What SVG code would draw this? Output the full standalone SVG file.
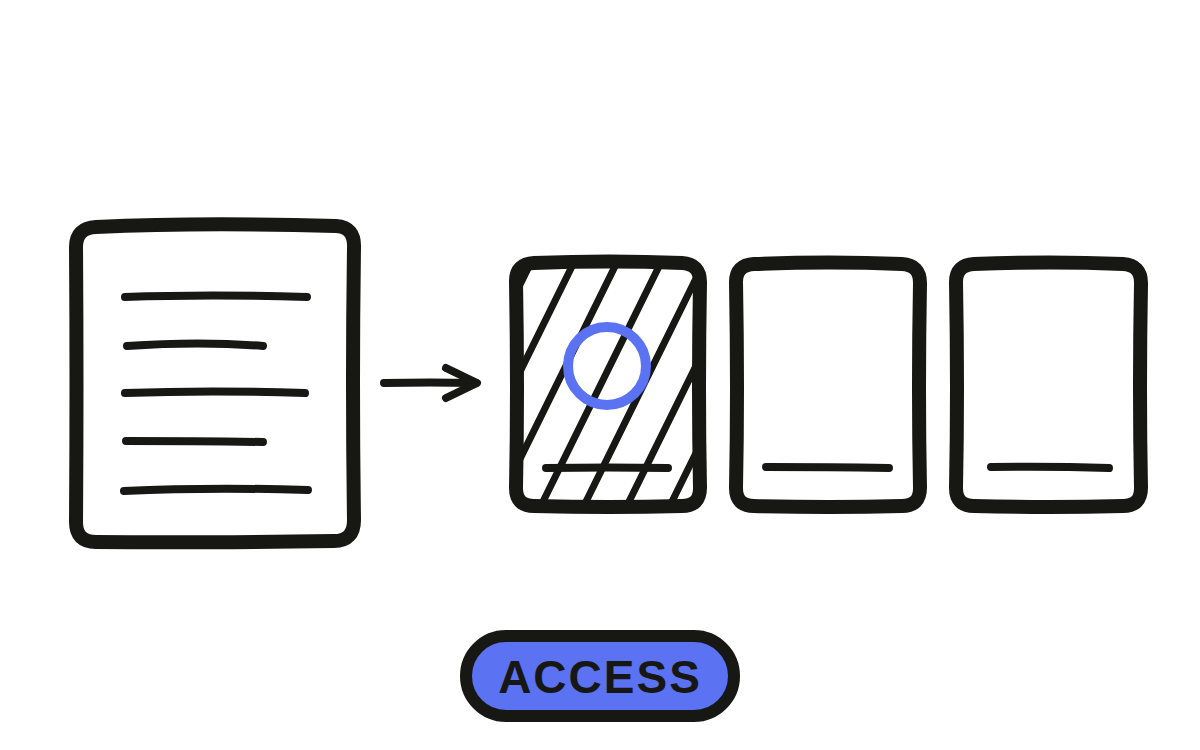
<svg xmlns="http://www.w3.org/2000/svg" width="1200" height="750" viewBox="0 0 1200 750">
<style>
.ink{fill:none;stroke:#171714;stroke-linecap:round;stroke-linejoin:round}
.box{stroke-width:14}
.ln{stroke-width:8}
.hatch{stroke-width:7}
.lbl{font-family:"Liberation Sans",Arial,sans-serif;font-weight:bold;font-size:46px;fill:#171714;letter-spacing:2px}
</style>
<defs>
<clipPath id="cardClip"><rect x="516" y="263" width="184" height="243" rx="18"/></clipPath>
</defs>
<rect width="1200" height="750" fill="#ffffff"/>
<g id="document">
<path class="ink box" d="M96 227 Q200 222 336 226 Q355 227 354 248 Q352 380 354 520 Q354 541 334 541 Q200 543 96 542 Q76 542 76 522 Q77 380 76 247 Q76 228 96 227 Z"/>
<path class="ink ln" d="M125 297 Q210 294 307 297"/>
<path class="ink ln" d="M127 346 Q200 341 263 346"/>
<path class="ink ln" d="M125 393 Q210 390 305 393"/>
<path class="ink ln" d="M126 441 Q200 441 263 442"/>
<path class="ink ln" d="M124 491 Q210 487 308 490"/>
</g>
<g id="connectors">
<path class="ink ln" d="M384 383 Q430 382 476 383"/>
<path class="ink ln" d="M446 368 L477 383 L446 398"/>
</g>
<g id="card1">
<g clip-path="url(#cardClip)">
<path class="ink hatch" d="M542 240 L399 530 M585 240 L442 530 M628 240 L485 530 M672 240 L529 530 M715 240 L572 530 M758 240 L615 530 M801 240 L658 530 M844 240 L701 530"/>
</g>
<path class="ink box" d="M534 263 Q610 260 682 263 Q700 264 700 282 Q698 390 700 488 Q700 506 682 506 Q610 508 534 506 Q516 506 516 488 Q518 390 516 281 Q516 264 534 263 Z"/>
<path class="ink ln" d="M546 468 Q610 467 668 468"/>
<circle cx="607" cy="366" r="39" fill="none" stroke="#5b72f3" stroke-width="10"/>
</g>
<g id="card2">
<path class="ink box" d="M754 264 Q830 261 902 264 Q920 265 920 283 Q918 390 920 488 Q920 506 902 506 Q830 508 754 506 Q736 506 736 488 Q738 390 736 282 Q736 265 754 264 Z"/>
<path class="ink ln" d="M766 467 Q830 467 889 468"/>
</g>
<g id="card3">
<path class="ink box" d="M974 264 Q1050 261 1123 264 Q1141 265 1141 283 Q1139 390 1141 488 Q1141 506 1123 506 Q1050 508 974 506 Q956 506 956 488 Q958 390 956 282 Q956 265 974 264 Z"/>
<path class="ink ln" d="M991 467 Q1050 466 1109 468"/>
</g>
<g id="access-button">
<rect x="466" y="636" width="268" height="80" rx="40" fill="#5b72f3" stroke="#171714" stroke-width="12"/>
<text class="lbl" x="600" y="693" text-anchor="middle">ACCESS</text>
</g>
</svg>
